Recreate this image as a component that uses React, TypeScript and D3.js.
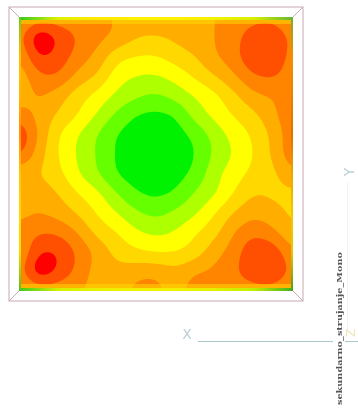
import React, { useMemo } from "react";
import * as d3 from "d3";

// Field: band index (0 = green centre ... 8 = red), 15 x 15 nodes
const row00 = [5.8, 6.3, 6.3, 6.3, 6.2, 5.9, 5.4, 5.2, 5.2, 5.4, 6.0, 6.4, 6.6, 6.6, 6.0];
const row01 = [6.5, 8.7, 7.8, 6.9, 6.3, 5.8, 5.1, 5.03, 5.2, 5.6, 6.0, 6.6, 7.6, 7.8, 6.6];
const row02 = [6.0, 8.0, 7.6, 6.6, 5.7, 4.4, 4.0, 3.95, 4.5, 5.0, 5.9, 6.6, 7.9, 7.9, 6.5];
const row03 = [5.4, 6.8, 6.9, 5.7, 4.9, 3.5, 3.0, 2.95, 3.4, 4.2, 5.0, 5.9, 6.9, 7.1, 6.4];
const row04 = [5.4, 6.1, 5.5, 4.5, 3.7, 2.8, 2.2, 1.9, 2.4, 3.1, 3.8, 4.8, 5.8, 6.1, 6.6];
const row05 = [6.5, 5.7, 4.9, 4.0, 2.9, 1.8, 1.0, 0.8, 1.1, 2.4, 3.3, 4.1, 4.8, 5.8, 6.7];
const row06 = [7.8, 5.9, 4.1, 3.05, 2.0, 1.0, 0.5, 0.3, 0.6, 1.3, 2.4, 3.4, 4.2, 5.3, 6.7];
const row07 = [7.2, 5.5, 4.0, 2.9, 1.9, 0.9, 0.3, 0.0, 0.4, 1.0, 2.2, 3.1, 4.05, 5.2, 6.7];
const row08 = [5.3, 5.05, 4.3, 3.1, 2.1, 1.0, 0.5, 0.3, 0.6, 1.3, 2.65, 3.55, 4.3, 4.8, 5.8];
const row09 = [5.5, 5.5, 5.0, 4.0, 3.2, 2.0, 1.1, 0.8, 1.15, 2.1, 2.9, 4.05, 4.95, 4.8, 4.8];
const row10 = [5.7, 6.0, 5.6, 4.9, 3.9, 3.0, 2.15, 1.75, 2.2, 2.85, 3.95, 5.05, 5.7, 5.4, 4.8];
const row11 = [6.3, 6.9, 6.8, 5.95, 4.7, 4.0, 3.15, 2.8, 3.1, 3.9, 4.7, 6.0, 6.7, 6.2, 5.2];
const row12 = [6.0, 7.9, 7.9, 6.8, 5.7, 4.7, 4.2, 3.95, 4.0, 4.5, 5.6, 6.5, 7.8, 7.6, 6.1];
const row13 = [6.4, 8.6, 7.8, 6.7, 5.6, 5.3, 5.6, 5.7, 5.3, 5.9, 6.2, 6.8, 7.7, 7.9, 6.6];
const row14 = [5.8, 6.2, 6.3, 6.1, 5.6, 5.4, 6.3, 6.3, 5.6, 6.5, 6.4, 6.4, 6.5, 6.5, 6.0];
const fieldRows = [row00, row01, row02, row03, row04, row05, row06, row07, row08, row09, row10, row11, row12, row13, row14];

const bandLevels = [1, 2, 3, 4, 5, 6, 7, 8];
const bandColors = ["#00f200", "#66ff00", "#aeff00", "#ffff00", "#ffd800", "#ffae00", "#ff8400", "#ff5000", "#ff0000"];

// Thin rim of the plate (colour along each edge)
const topRim = ["#30c820", "#e0f000", "#ffe800", "#fff000", "#fff000", "#f4f000", "#d8ee00", "#60b830"];
const bottomRim = ["#40c820", "#d0f000", "#e8f000", "#f0f000", "#f0f000", "#e0f000", "#c0ee00", "#40b020"];
const leftRim = ["#60d020", "#ffc000", "#ffb800", "#ff9000", "#ffc800", "#ffd800", "#f0e000", "#50c020"];
const rightRim = ["#70b030", "#f09000", "#e88000", "#e07000", "#e8a800", "#f0c800", "#e0c800", "#40a020"];
const rims = [
  { id: "rt", stops: topRim, vertical: false },
  { id: "rb", stops: bottomRim, vertical: false },
  { id: "rl", stops: leftRim, vertical: true },
  { id: "rr", stops: rightRim, vertical: true },
];

const axisLabel = "sekundarno_strujanje_Mono";

const W = 358;
const H = 408;
const plot = { x0: 19, x1: 293, y0: 17, y1: 291 };
const frame = { x0: 9, x1: 303, y0: 7, y1: 301 };
const UP = 8;

function cr(p0: number, p1: number, p2: number, p3: number, t: number) {
  return 0.5 * (2 * p1 + (p2 - p0) * t + (2 * p0 - 5 * p1 + 4 * p2 - p3) * t * t + (3 * p1 - p0 - 3 * p2 + p3) * t * t * t);
}

function upsample(rows: number[][], k: number) {
  const n = rows.length;
  const m = (n - 1) * k + 1;
  const at = (r: number, c: number) => rows[Math.max(0, Math.min(n - 1, r))][Math.max(0, Math.min(n - 1, c))];
  const out = new Float64Array(m * m);
  for (let j = 0; j < m; j++) {
    const rf = j / k;
    const r = Math.min(n - 2, Math.floor(rf));
    const ty = rf - r;
    for (let i = 0; i < m; i++) {
      const cf = i / k;
      const c = Math.min(n - 2, Math.floor(cf));
      const tx = cf - c;
      const col = [-1, 0, 1, 2].map((d) => cr(at(r + d, c - 1), at(r + d, c), at(r + d, c + 1), at(r + d, c + 2), tx));
      out[j * m + i] = cr(col[0], col[1], col[2], col[3], ty);
    }
  }
  return { values: out, m };
}

export default function App() {
  const { paths } = useMemo(() => {
    const { values, m } = upsample(fieldRows, UP);
    d3.blur2({ data: values, width: m, height: m }, 2);
    const xs = d3.scaleLinear().domain([0.5, m - 0.5]).range([plot.x0, plot.x1]);
    const ys = d3.scaleLinear().domain([0.5, m - 0.5]).range([plot.y0, plot.y1]);
    const proj = d3.geoTransform({
      point(this: any, x: number, y: number) {
        this.stream.point(xs(x), ys(y));
      },
    });
    const path = d3.geoPath(proj);
    const cs = d3.contours().size([m, m]).thresholds(bandLevels)(Array.from(values));
    return { paths: cs.map((c, i) => ({ d: path(c as any) || "", fill: bandColors[i + 1] })) };
  }, []);

  const pw = plot.x1 - plot.x0;
  const ph = plot.y1 - plot.y0;
  const frameLine = "#c9a9b2";
  const axisColor = "#a9c8cc";

  return (
    <svg width={W} height={H} style={{ position: "absolute", left: 0, top: 0, background: "#fff" }}>
      <defs>
        <clipPath id="plate">
          <rect x={plot.x0} y={plot.y0} width={pw} height={ph} />
        </clipPath>
        <filter id="soft" x="-5%" y="-5%" width="110%" height="110%">
          <feGaussianBlur stdDeviation="0.7" />
        </filter>
        <filter id="softer" x="-30%" y="-30%" width="160%" height="160%">
          <feGaussianBlur stdDeviation="0.45" />
        </filter>
        {rims.map((r) => (
          <linearGradient key={r.id} id={r.id} x1="0" y1="0" x2={r.vertical ? 0 : 1} y2={r.vertical ? 1 : 0}>
            {r.stops.map((c, i) => (
              <stop key={i} offset={i / (r.stops.length - 1)} stopColor={c} />
            ))}
          </linearGradient>
        ))}
      </defs>

      <g filter="url(#soft)">
        <g clipPath="url(#plate)">
          <rect x={plot.x0} y={plot.y0} width={pw} height={ph} fill={bandColors[0]} />
          {paths.map((p, i) => (
            <path key={i} d={p.d} fill={p.fill} />
          ))}
        </g>
        <rect x={plot.x0} y={plot.y0 + 3} width={pw} height={4} fill={bandColors[4]} opacity={0.55} />
        <rect x={plot.x0} y={plot.y1 - 7} width={pw} height={4} fill={bandColors[4]} opacity={0.55} />
        <rect x={plot.x0} y={plot.y0} width={pw} height={3} fill="url(#rt)" />
        <rect x={plot.x0} y={plot.y1 - 3} width={pw} height={3} fill="url(#rb)" />
        <rect x={plot.x0} y={plot.y0} width={2} height={ph} fill="url(#rl)" />
        <rect x={plot.x1 - 2} y={plot.y0} width={2} height={ph} fill="url(#rr)" />
      </g>

      <g fill="none" stroke={frameLine} strokeWidth={1} filter="url(#softer)">
        <rect x={frame.x0} y={frame.y0} width={frame.x1 - frame.x0} height={frame.y1 - frame.y0} />
        <line x1={frame.x0} y1={frame.y0} x2={plot.x0} y2={plot.y0} />
        <line x1={frame.x1} y1={frame.y0} x2={plot.x1} y2={plot.y0} />
        <line x1={frame.x0} y1={frame.y1} x2={plot.x0} y2={plot.y1} />
        <line x1={frame.x1} y1={frame.y1} x2={plot.x1} y2={plot.y1} />
      </g>

      <g filter="url(#softer)">
        <line x1={198} y1={341.5} x2={333} y2={341.5} stroke={axisColor} strokeWidth={1} />
        <line x1={345} y1={341.5} x2={358} y2={341.5} stroke={axisColor} strokeWidth={1} />
        <line x1={347.5} y1={182} x2={347.5} y2={330} stroke="#eef5f5" strokeWidth={1} />
        <text x={187} y={339} textAnchor="middle" fontFamily="'DejaVu Sans'" fontSize={14} fill="#b9cfd6">X</text>
        <text transform="translate(354,172) rotate(-90)" textAnchor="middle" fontFamily="'DejaVu Sans'" fontSize={14} fill="#b9d2d4">Y</text>
        <text transform="translate(355,333) rotate(-90)" textAnchor="middle" fontFamily="'DejaVu Sans'" fontSize={12} fill="#ece6b4">Z</text>
        <text transform="translate(342,405) rotate(-90)" fontFamily="'DejaVu Serif'" fontWeight="bold" fontSize={8} textLength={153} lengthAdjust="spacingAndGlyphs" fill="#555">{axisLabel}</text>
      </g>
    </svg>
  );
}
